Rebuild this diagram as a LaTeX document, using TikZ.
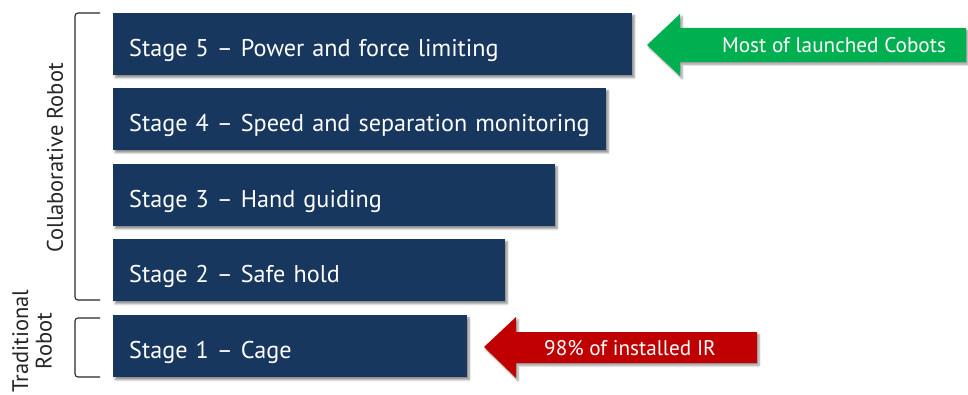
\documentclass[tikz,border=0pt]{standalone}
\usepackage{fontspec}
\setmainfont{PT Sans}
\usetikzlibrary{shadows.blur}
\definecolor{navy}{HTML}{17375E}
\definecolor{cobot}{HTML}{00B050}
\definecolor{irred}{HTML}{C00000}
\begin{document}
\begin{tikzpicture}[x=1pt,y=-1pt,
  stagebox/.style={fill=navy, text=white, anchor=north west, minimum height=62pt,
    inner xsep=16pt, align=left, font=\fontsize{24.2}{27}\selectfont,
    text height=24pt, text depth=0pt,
    blur shadow={shadow xshift=2pt, shadow yshift=-2.5pt, shadow blur steps=6, shadow opacity=45}},
  arrowtext/.style={text=white, font=\fontsize{21.2}{24}\selectfont},
  bracket/.style={draw=black!85, line width=1.1pt, rounded corners=3pt},
  sidelabel/.style={rotate=90, font=\fontsize{22.5}{23.5}\selectfont, text=black!85, align=center}]
\useasboundingbox (0,0) rectangle (968,395);

% stage bars, shortest at the bottom
\node[stagebox, minimum width=519pt, text width=487pt] (s5) at (113,13) {\mbox{Stage 5 -- Power and force limiting}};
\node[stagebox, minimum width=493pt, text width=461pt] (s4) at (113,88) {\mbox{Stage 4 -- Speed and separation monitoring}};
\node[stagebox, minimum width=442pt, text width=410pt] (s3) at (113,164) {\mbox{Stage 3 -- Hand guiding}};
\node[stagebox, minimum width=392pt, text width=360pt] (s2) at (113,239) {\mbox{Stage 2 -- Safe hold}};
\node[stagebox, minimum width=354pt, text width=322pt] (s1) at (113,315) {\mbox{Stage 1 -- Cage}};

% green call-out arrow
\fill[cobot, blur shadow={shadow xshift=2pt, shadow yshift=-2.5pt, shadow blur steps=6, shadow opacity=40}]
  (647,45) -- (680,14) -- (680,28) -- (966,28) -- (966,62) -- (680,62) -- (680,76) -- cycle;
\node[arrowtext] (cobots) at (834,45) {Most of launched Cobots};

% red call-out arrow
\fill[irred, blur shadow={shadow xshift=2pt, shadow yshift=-2.5pt, shadow blur steps=6, shadow opacity=40}]
  (484,347) -- (516,317) -- (516,332) -- (757,332) -- (757,363) -- (516,363) -- (516,378) -- cycle;
\node[arrowtext] (installed) at (630,348) {98\% of installed IR};

% group brackets
\draw[bracket] (100,13) -- (75,13) -- (75,300) -- (100,300);
\draw[bracket] (100,318) -- (75,318) -- (75,377) -- (100,377);
\node[sidelabel] (collab) at (55,158) {Collaborative Robot};
\node[sidelabel] (trad) at (32,341) {Traditional\\Robot};
\end{tikzpicture}
\end{document}
